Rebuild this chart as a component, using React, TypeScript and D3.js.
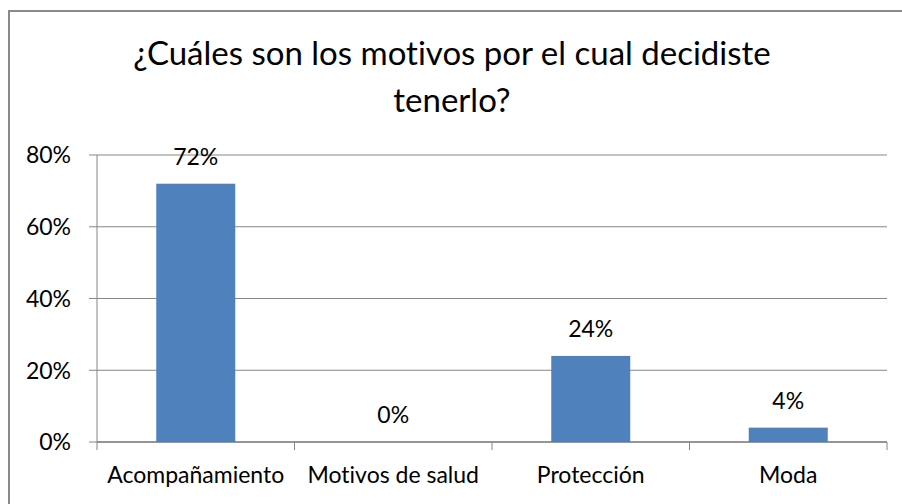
import React from 'react';
import * as d3 from 'd3';

const categories = ['Acompañamiento', 'Motivos de salud', 'Protección', 'Moda'];
const values = [0.72, 0, 0.24, 0.04];
const yTicks = [0, 0.2, 0.4, 0.6, 0.8];
const titleLines = ['¿Cuáles son los motivos por el cual decidiste', 'tenerlo?'];

const W = 902;
const H = 504;
const FONT = "Lato, 'Open Sans', sans-serif";

const App: React.FC = () => {
  const plot = { left: 97, right: 887, top: 155, bottom: 442 };

  const x = d3.scaleBand<string>()
    .domain(categories)
    .range([plot.left, plot.right])
    .paddingInner(0.6)
    .paddingOuter(0.3);
  const band = (plot.right - plot.left) / categories.length;

  const y = d3.scaleLinear().domain([0, 0.8]).range([plot.bottom, plot.top]);
  const fmt = d3.format('.0%');

  return (
    <div style={{ position: 'absolute', left: 0, top: 0 }}>
      <svg width={W} height={H} style={{ display: 'block', background: '#fff', fontVariantLigatures: 'none' }}>
        {/* chart frame */}
        <rect x={9} y={11} width={W + 20} height={H + 20} fill="none" stroke="#898989" strokeWidth={2} />

        {titleLines.map((t, i) => (
          <text key={t} x={452} y={65 + i * 47} textAnchor="middle" fontFamily={FONT} fontSize={33} fill="#000">
            {t}
          </text>
        ))}

        {/* gridlines + y ticks */}
        {yTicks.map(t => (
          <g key={t}>
            <line x1={plot.left - 8} x2={plot.right} y1={y(t)} y2={y(t)} stroke="#868686" strokeWidth={1} />
            <text x={71} y={y(t)} dy="0.36em" textAnchor="end" fontFamily={FONT} fontSize={23} fill="#000">
              {fmt(t)}
            </text>
          </g>
        ))}
        <line x1={plot.left} x2={plot.left} y1={plot.top} y2={plot.bottom} stroke="#868686" strokeWidth={1} />

        {/* category ticks */}
        {d3.range(categories.length + 1).map(i => (
          <line key={i} x1={plot.left + i * band} x2={plot.left + i * band} y1={plot.bottom} y2={plot.bottom + 8} stroke="#868686" strokeWidth={1} />
        ))}
        <line x1={plot.left} x2={plot.right} y1={plot.bottom} y2={plot.bottom} stroke="#868686" strokeWidth={1.5} />

        {/* bars */}
        {categories.map((c, i) => (
          <g key={c}>
            {values[i] > 0 && (
              <rect x={x(c)} y={y(values[i])} width={x.bandwidth()} height={plot.bottom - y(values[i])} fill="#4F81BD" />
            )}
            <text x={(x(c) ?? 0) + x.bandwidth() / 2} y={y(values[i]) - 19} textAnchor="middle" fontFamily={FONT} fontSize={23} fill="#000">
              {fmt(values[i])}
            </text>
            <text x={(x(c) ?? 0) + x.bandwidth() / 2} y={483} textAnchor="middle" fontFamily={FONT} fontSize={23} fill="#000">
              {c}
            </text>
          </g>
        ))}
      </svg>
    </div>
  );
};

export default App;
